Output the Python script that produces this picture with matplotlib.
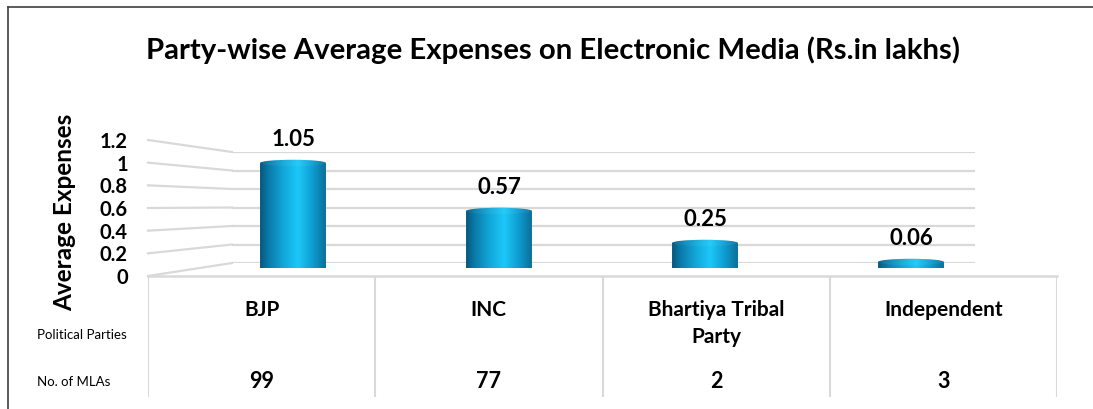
import numpy as np
import matplotlib
matplotlib.use("Agg")
import matplotlib.pyplot as plt
from matplotlib.patches import Ellipse, PathPatch
from matplotlib.path import Path
from matplotlib.colors import LinearSegmentedColormap
from matplotlib.lines import Line2D

# ---------------- data ----------------
parties = ["BJP", "INC", "Bhartiya Tribal\nParty", "Independent"]
avg_expenses = [1.05, 0.57, 0.25, 0.06]
value_labels = ["1.05", "0.57", "0.25", "0.06"]
mlas = [99, 77, 2, 3]
yticks = [0, 0.2, 0.4, 0.6, 0.8, 1.0, 1.2]
ytick_labels = ["0", "0.2", "0.4", "0.6", "0.8", "1", "1.2"]
title = "Party-wise Average Expenses on Electronic Media (Rs.in lakhs)"
ylabel = "Average Expenses"
row_labels = ["Political Parties", "No. of MLAs"]

# ---------------- layout helpers ----------------
W, H = 1093, 409
fig = plt.figure(figsize=(W / 100, H / 100), dpi=100)
fig.patch.set_facecolor("white")
FONT = ["Lato", "DejaVu Sans"]


def px_rect(x0, ytop, x1, ybot):
    return [x0 / W, 1 - ybot / H, (x1 - x0) / W, (ybot - ytop) / H]


GRID = "#d9d9d9"
n = len(parties)
xlim = (-0.5, n - 0.5)
ylim = (0, 1.2)

# back wall (gridlines)
ax_back = fig.add_axes(px_rect(232, 152, 975, 263))
ax_back.set_xlim(*xlim)
ax_back.set_ylim(*ylim)
ax_back.axis("off")
for t in yticks:
    ax_back.axhline(t, color=GRID, lw=1.6, zorder=0)

# front plane (tick labels)
ax_front = fig.add_axes(px_rect(148, 140, 1057, 276))
ax_front.set_xlim(*xlim)
ax_front.set_ylim(*ylim)
ax_front.patch.set_alpha(0)
for s in ax_front.spines.values():
    s.set_visible(False)
ax_front.set_xticks([])
ax_front.set_yticks(yticks, ytick_labels)
ax_front.tick_params(axis="y", length=0, pad=14.5)
for lab in ax_front.get_yticklabels():
    lab.set_fontfamily(FONT)
    lab.set_fontweight("bold")
    lab.set_fontsize(14.5)

# side-wall perspective lines connecting front and back planes
for t in yticks:
    p_front = ax_front.transData.transform((xlim[0], t))
    p_back = ax_back.transData.transform((xlim[0], t))
    pf = fig.transFigure.inverted().transform(p_front)
    pb = fig.transFigure.inverted().transform(p_back)
    fig.add_artist(Line2D([pf[0], pb[0]], [pf[1], pb[1]], color=GRID, lw=1.6,
                          transform=fig.transFigure, zorder=0))

# bars (middle depth plane)
ax_bars = fig.add_axes(px_rect(190, 148, 1014, 268))
ax_bars.set_xlim(*xlim)
ax_bars.set_ylim(*ylim)
ax_bars.axis("off")
ax_bars.patch.set_alpha(0)

cyl_cmap = LinearSegmentedColormap.from_list(
    "cyl",
    [(0.0, "#07577c"), (0.12, "#0a78a6"), (0.35, "#11a6d8"),
     (0.58, "#1cc8f8"), (0.8, "#0f9cd0"), (1.0, "#0a6f99")])
grad = np.tile(np.linspace(0, 1, 256), (2, 1))
bw = 0.32
eh = 0.065  # ellipse height in data units
for i, v in enumerate(avg_expenses):
    x0, x1 = i - bw / 2, i + bw / 2
    th = np.linspace(np.pi, 2 * np.pi, 60)
    bx = i + (bw / 2) * np.cos(th)
    by = (eh / 2) * np.sin(th)
    verts = list(zip(bx, by)) + [(x1, v), (x0, v), (bx[0], by[0])]
    body = PathPatch(Path(verts, closed=True), transform=ax_bars.transData,
                     facecolor="none", edgecolor="none")
    ax_bars.add_patch(body)
    im = ax_bars.imshow(grad, extent=[x0, x1, -eh, v + eh], cmap=cyl_cmap,
                        aspect="auto", zorder=2, interpolation="bilinear")
    im.set_clip_path(body)
    top = Ellipse((i, v), bw, eh, transform=ax_bars.transData,
                  facecolor="none", edgecolor="none")
    ax_bars.add_patch(top)
    im2 = ax_bars.imshow(grad, extent=[x0, x1, v - eh, v + eh], cmap=cyl_cmap,
                         aspect="auto", zorder=3, interpolation="bilinear")
    im2.set_clip_path(top)
    ax_bars.add_patch(Ellipse((i, v), bw, eh, facecolor="white", alpha=0.05,
                              edgecolor="none", zorder=4))
    ax_bars.annotate(value_labels[i], (i, v), xytext=(0, 17),
                     textcoords="offset points", ha="center", va="center",
                     fontsize=16, fontweight="bold", family=FONT, zorder=5)
ax_bars.set_xlim(*xlim)
ax_bars.set_ylim(*ylim)

# data table below
ax_tab = fig.add_axes(px_rect(148, 276, 1057, 397))
ax_tab.set_xlim(*xlim)
ax_tab.set_ylim(1, 0)
ax_tab.axis("off")
ax_tab.axhline(0, color=GRID, lw=1.8, clip_on=False)
for xb in np.arange(xlim[0], xlim[1] + 0.01, 1.0):
    ax_tab.axvline(xb, color=GRID, lw=1.5)
row1_y = (300 - 276) / (397 - 276)
row2_y = (382 - 276) / (397 - 276)
for i, p in enumerate(parties):
    ax_tab.text(i, row1_y, p, ha="center", va="top", fontsize=15,
                fontweight="bold", family=FONT, linespacing=1.45)
    ax_tab.text(i, row2_y, str(mlas[i]), ha="center", va="center",
                fontsize=15.5, fontweight="bold", family=FONT)

fig.text(37 / W, 1 - 335 / H, row_labels[0], ha="left", va="center",
         fontsize=9.5, family=FONT)
fig.text(37 / W, 1 - 382 / H, row_labels[1], ha="left", va="center",
         fontsize=9.5, family=FONT)

# axis title and chart title
fig.text(65 / W, 1 - 212 / H, ylabel, rotation=90, ha="center", va="center",
         fontsize=17.5, fontweight="bold", family=FONT)
fig.text(553 / W, 1 - 50 / H, title, ha="center", va="center",
         fontsize=21.2, fontweight="bold", family=FONT)

# outer frame (top and left edges visible)
FR = "#404040"
fig.add_artist(Line2D([8 / W, 1], [1 - 7 / H, 1 - 7 / H], color=FR, lw=1.2,
                      transform=fig.transFigure))
fig.add_artist(Line2D([8 / W, 8 / W], [0, 1 - 7 / H], color=FR, lw=1.2,
                      transform=fig.transFigure))

fig.savefig("out.png", dpi=100, facecolor="white")
